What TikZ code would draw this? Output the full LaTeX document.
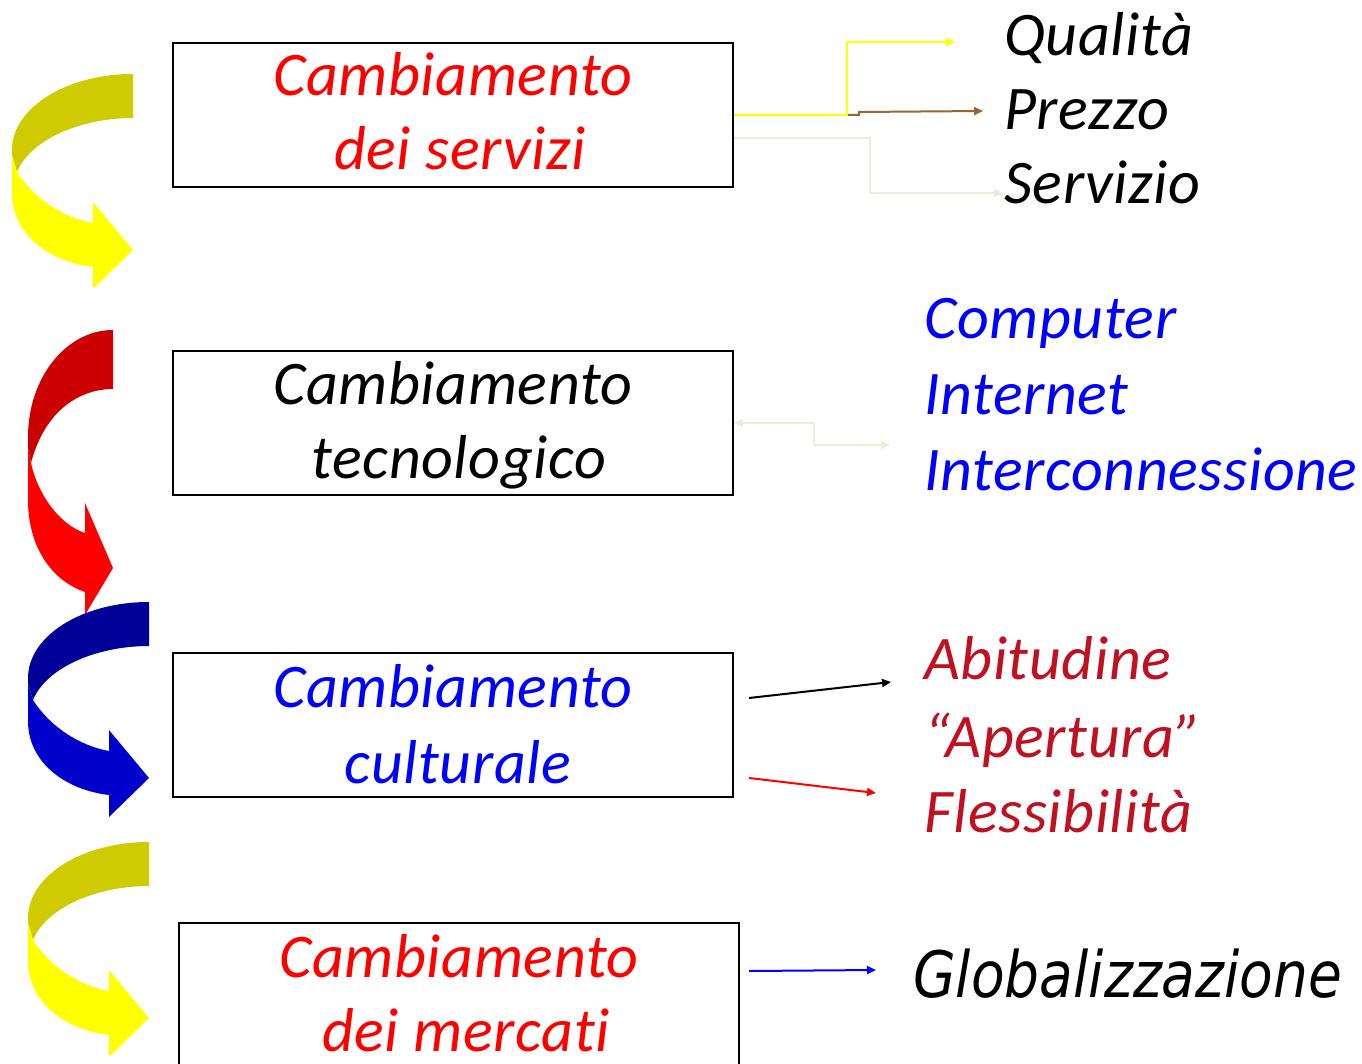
\documentclass[tikz,border=0pt]{standalone}
\usepackage{fontspec}
\setmainfont{Carlito}[Ligatures={NoCommon,NoContextual}, LetterSpace=1]
\newfontfamily\globfont{DejaVu Sans}[FakeStretch=0.86]
\usetikzlibrary{arrows.meta,calc}
\definecolor{ydark}{RGB}{206,204,0}
\definecolor{ylite}{RGB}{255,255,0}
\definecolor{rdark}{RGB}{204,0,0}
\definecolor{rlite}{RGB}{255,0,0}
\definecolor{bdark}{RGB}{0,0,153}
\definecolor{blite}{RGB}{0,0,204}
\definecolor{txtred}{RGB}{255,0,0}
\definecolor{txtblue}{RGB}{0,0,255}
\definecolor{darkred}{RGB}{192,16,34}
\definecolor{brownline}{RGB}{153,102,51}
\definecolor{paleline}{RGB}{238,236,225}
\begin{document}
\begin{tikzpicture}[x=1pt,y=-1pt,
  box/.style={draw=black, line width=2pt, minimum width=560pt, minimum height=144pt, inner sep=0pt, anchor=north west},
  txt/.style={font=\fontsize{62}{74}\selectfont\itshape, anchor=base, inner sep=0pt},
  lst/.style={txt, anchor=base west},
  conn/.style={line width=2pt, -{Triangle[length=9pt,width=8pt]}},
  ribbon dark/.style={fill=ydark},
  ribbon lite/.style={fill=ylite},
  ribbon/.pic={
    \fill[ribbon dark] (133,74) .. controls (66,74) and (12,108) .. (12,150) -- (12,155) -- (17,172)
      .. controls (30,140) and (80,118) .. (133,118) -- cycle;
    \fill[ribbon lite] (12,155) -- (12,193) .. controls (12,235) and (50,262) .. (93,267) -- (93,289)
      -- (133,250) -- (93,202) -- (93,223) .. controls (65,218) and (35,200) .. (17,172) -- cycle;
  }]
\useasboundingbox (0,0) rectangle (1362,1064);
\clip (0,0) rectangle (1362,1064);

% curved ribbon arrows
\pic (r1) at (0,0) {ribbon};
\fill[rdark] (113,330) .. controls (66,330) and (28,378) .. (28,437) -- (28,448) -- (31,463)
  .. controls (45,410) and (80,389) .. (113,389) -- cycle;
\fill[rlite] (28,448) -- (28,500) .. controls (28,545) and (50,580) .. (85,592) -- (85,615)
  -- (113,568) -- (85,503) -- (85,533) .. controls (60,525) and (38,495) .. (31,463) -- cycle;
\pic[ribbon dark/.style={fill=bdark}, ribbon lite/.style={fill=blite}] (r3) at (16,528) {ribbon};
\pic (r4) at (16,768) {ribbon};

% boxes
\node[box] (b1) at (172,42) {};
\node[box] (b2) at (172,350) {};
\node[box] (b3) at (172,652) {};
\node[box] (b4) at (178,922) {};

% box texts
\node[txt, txtred] (t1a) at (453,96) {Cambiamento};
\node[txt, txtred] (t1b) at (460,170) {dei servizi};
\node[txt, black] (t2a) at (453,404) {Cambiamento};
\node[txt, black] (t2b) at (459,478) {tecnologico};
\node[txt, txtblue] (t3a) at (453,707) {Cambiamento};
\node[txt, txtblue] (t3b) at (458,783) {culturale};
\node[txt, txtred] (t4a) at (459,977) {Cambiamento};
\node[txt, txtred] (t4b) at (466,1051) {dei mercati};

% right lists
\node[lst, black] (q) at (1004,56) {Qualità};
\node[lst, black] (p) at (1004,130) {Prezzo};
\node[lst, black] (s) at (1004,204) {Servizio};
\node[lst, txtblue] (c1) at (924,338) {Computer};
\node[lst, txtblue] (c2) at (924,414) {Internet};
\node[lst, txtblue] (c3) at (924,490) {Interconnessione};
\node[lst, darkred] (a1) at (924,679) {Abitudine};
\node[lst, darkred] (a2) at (924,757) {“Apertura”};
\node[lst, darkred] (a3) at (924,832) {Flessibilità};
\node[anchor=base west, inner sep=0pt, font=\globfont\fontsize{64}{74}\selectfont\itshape] (g) at (913,997) {Globalizzazione};

% connector end points
\coordinate (eq) at (955,42);
\coordinate (ep) at (983,111);
\coordinate (es) at (1003,193);
\coordinate (et) at (890,445);
\coordinate (ea) at (891,682);
\coordinate (ef) at (876,793);
\coordinate (eg) at (876,970);

% connectors
\draw[conn, brownline] ([xshift=113pt]b1.east) -- ++(12,0) -- ++(0,-3) -- (ep);
\draw[conn, ylite, line width=2.5pt] (b1.east) -- ++(113,0) |- (eq);
\draw[conn, paleline] ([yshift=-23pt]b1.east) -- ++(136,0) |- (es);
\draw[line width=2pt, paleline, {Triangle[length=9pt,width=8pt]}-{Triangle[length=9pt,width=8pt]}] (b2.east) -- ++(80,0) |- (et);
\draw[conn, black] ([xshift=15pt,yshift=27pt]b3.east) -- (ea);
\draw[conn, rlite] ([xshift=15pt,yshift=-53pt]b3.east) -- (ef);
\draw[conn, blue] ([xshift=9pt,yshift=24pt]b4.east) -- (eg);
\end{tikzpicture}
\end{document}
